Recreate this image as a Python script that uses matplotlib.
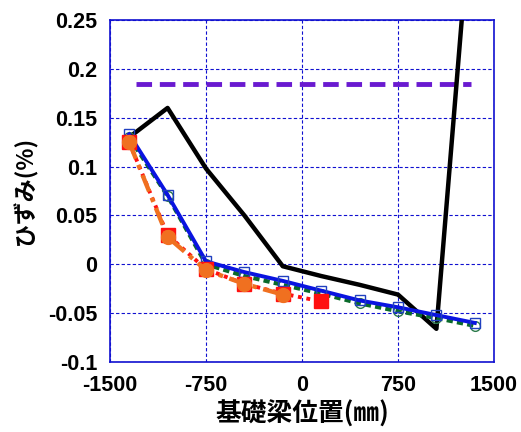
import matplotlib
matplotlib.use("Agg")
import matplotlib.pyplot as plt

x_all = [-1350, -1050, -750, -450, -150, 150, 450, 750, 1050, 1350]
blue_sq = [0.133, 0.071, 0.003, -0.008, -0.017, -0.027, -0.037, -0.044, -0.052, -0.060]
green_ci = [0.130, 0.070, 0.000, -0.012, -0.021, -0.030, -0.040, -0.048, -0.055, -0.063]
black_y = [0.130, 0.160, 0.098, 0.050, -0.002, -0.012, -0.021, -0.031, -0.066, 0.413]
x_red = [-1350, -1050, -750, -450, -150, 150]
red_sq = [0.125, 0.030, -0.005, -0.020, -0.030, -0.038]
x_org = [-1350, -1050, -750, -450, -150]
org_ci = [0.125, 0.028, -0.006, -0.020, -0.031]
x_purple = [-1300, 1320]
purple_y = [0.185, 0.185]

xticks = [-1500, -750, 0, 750, 1500]
yticks = [-0.1, -0.05, 0, 0.05, 0.1, 0.15, 0.2, 0.25]
ytick_labels = ["-0.1", "-0.05", "0", "0.05", "0.1", "0.15", "0.2", "0.25"]

fig = plt.figure(figsize=(5.21, 4.32), dpi=100)
ax = fig.add_axes([0.2111, 0.162, 0.7371, 0.7917])

ax.plot(x_purple, purple_y, color="#6a1ad0", lw=3.5, dashes=(3.2, 1.6), zorder=3)
ax.plot(x_all, black_y, color="black", lw=3.2, zorder=4)
ax.plot(x_all, green_ci, color="#0a6a2a", lw=3, dashes=(1.5, 1.0), marker="o", ms=7,
        mfc="none", mec="#2a7a4a", mew=1, zorder=5)
ax.plot(x_all, blue_sq, color="#0a14e0", lw=2.8, marker="s", ms=7,
        mfc="none", mec="#2040c0", mew=1, zorder=5)
ax.plot(x_red, red_sq, color="#ff1010", lw=2.8, dashes=(1.0, 1.2), marker="s", ms=10.5,
        mfc="#ff1010", mec="#ff1010", zorder=6)
ax.plot(x_org, org_ci, color="#f07020", lw=3.2, dashes=(4, 1.5, 1, 1.5), marker="o", ms=10,
        mfc="#f07020", mec="#f07020", zorder=7)

ax.set_xlim(-1500, 1500)
ax.set_ylim(-0.1, 0.25)
ax.set_xticks(xticks)
ax.set_xticklabels([str(t) for t in xticks])
ax.set_yticks(yticks)
ax.set_yticklabels(ytick_labels)
ax.tick_params(length=0, pad=9)
for lab in ax.get_xticklabels() + ax.get_yticklabels():
    lab.set_fontfamily("Liberation Sans")
    lab.set_fontweight("bold")
    lab.set_fontsize(15.5)

ax.grid(True, color="#1010d0", linestyle=(0, (3, 2)), lw=0.8)
for s in ax.spines.values():
    s.set_color("#1010d0")
    s.set_linewidth(1.2)

ax.set_xlabel("基礎梁位置(㎜)", fontfamily=["Noto Sans CJK JP", "DejaVu Sans"],
              fontweight="bold", fontsize=18.5, labelpad=4)
ax.set_ylabel("ひずみ(%)", fontfamily=["Noto Sans CJK JP", "DejaVu Sans"],
              fontweight="bold", fontsize=16.5, labelpad=8)

fig.savefig("out.png", dpi=100)
